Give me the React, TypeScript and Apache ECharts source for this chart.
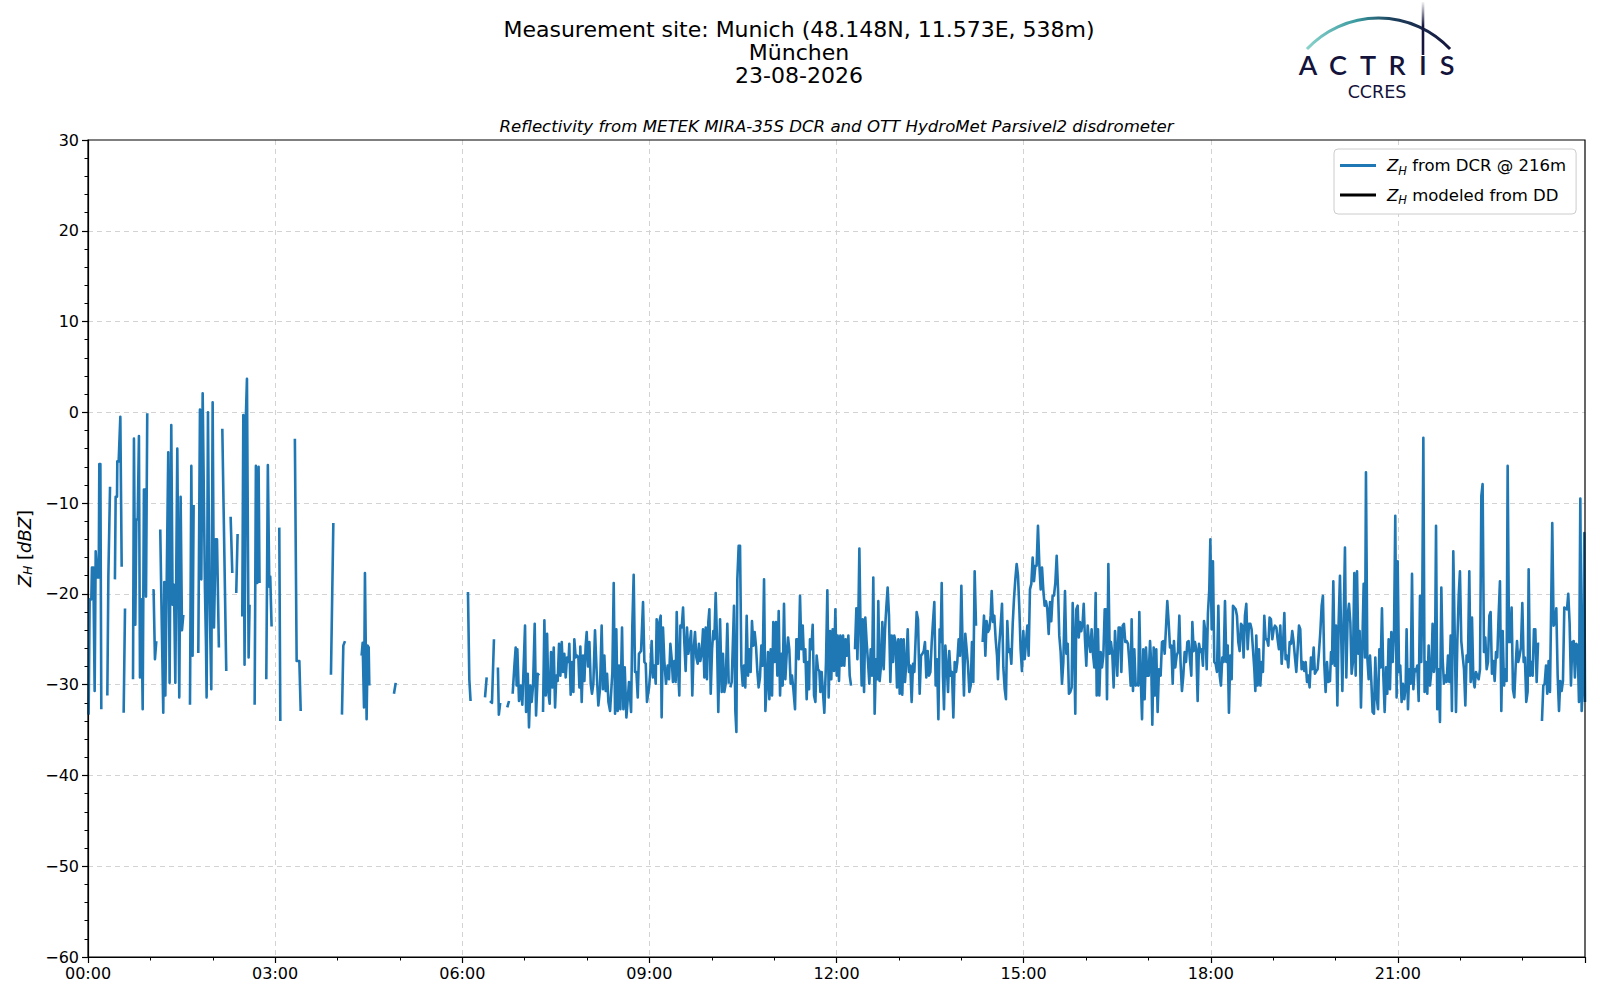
import React, { useEffect, useRef } from "react";
import * as echarts from "echarts";

// Reflectivity Z_H from DCR @ 216 m: [minute of day, dBZ]; [t, null] marks a data gap
const segNight: [number, number | null][] = [
  [0.6,-33.3],[1.6,-20.6],[3.2,-20.6],[3.8,-17.1],[5.1,-17.1],[6.4,-30.7],[7.4,-15.3],[9,-18.2],[10.3,-18.2],[10.9,-5.7],[11.9,-5.7],[12.8,-32.7],[15,null],
  [18.6,-31.2],[19.6,-18],[21.2,-8.2],[23,null],
  [25.9,-18.4],[26.6,-9.3],[27.9,-9.3],[28.2,-5.4],[29.5,-5.4],[31.1,-0.5],[32.4,-17],[33.3,null],
  [34.3,-33.1],[35.6,-21.6],[40,null],
  [43.3,-29.4],[44.2,-2.9],[45.5,-23.4],[46.5,-11.8],[47.8,-11.8],[49,-2.6],[50,-29.2],[51.3,-20.6],[52.6,-32.7],[53.8,-8.5],[55.1,-8.5],[55.8,-20.3],[57,-0.1],[59,null],
  [61.9,-19.6],[63.1,-19.6],[64.4,-27.2],[65.7,-25.2],[67,null],
  [69.5,-12.9],[70.5,-20.1],[72.4,-33.1],[73.4,-18.7],[74.4,-31.2],[77.2,-4.4],[78.5,-29.8],[80.1,-1.4],[81.4,-21.2],[82.7,-19],[84,-29.8],[85.9,-4],[87.8,-31.4],[89.1,-9.3],[90.4,-24],[91.7,-22.3],[95,null],
  [98.1,-32.2],[99.4,-5.9],[100.6,-26.8],[101.6,-10.2],[104,null],
  [106.1,-26.5],[107.7,0.3],[109,-18.4],[110.3,2.1],[112.5,-19.5],[113.5,-25.6],[114.1,-31.4],[115.4,0],[116.7,-18.8],[118.6,-30.5],[119.9,1.1],[121.2,-23.7],[122.8,-14],[124.1,-14],[125.9,-25.9],[127.5,null],
  [129.2,-1.8],[133,-28.5],[135,null],
  [137.2,-11.5],[138.8,-17.7],[140.5,null],
  [142.6,-19.9],[143.9,-13.4],[146,null],
  [148.4,-22.5],[149.4,-0.3],[150.6,-27.8],[151.9,-0.3],[152.9,3.7],[154.5,-27],[155.4,-21.2],[158,null],
  [160.3,-32.2],[161.5,-5.9],[162.8,-18.8],[164.1,-6],[165,-18.8],[168,null],
  [171.5,-29.4],[173,-5.8],[174.4,-19.2],[175.3,-18.1],[176.6,-23.6],[180,null],
  [184,-12.7],[185,-34],[190,null],
  [199,-2.9],[200.7,-27.4],[203.3,-27.4],[204.6,-32.9],[215,null],
  [233.7,-28.9],[236,-12.2],[240,null],
  [244.3,-33.3],[245.6,-25.7],[247.2,-25.2],[255,null],
  [263.2,-26.8],[264.2,-25.4],[265.5,-32.5],[266.4,-17.7],[268,-33.8],[269,-25.7],[270,-25.9],[270.6,-30.1],[280,null],
  [294.3,-31],[296,-29.8],[330,null],
  [365.5,-19.8],[366.8,-29.4],[368,-31.8],[375,null],
  [381.9,-31.4],[383.5,-29.2],[385,null],
  [386.7,-31.8],[388.6,-32],[390.5,-25],[392,null],
  [394.3,-28.1],[395.2,-33.3],[396.5,-32],[400,null],
  [403.3,-32.5],[405,-31.8],[406.5,null],
  [408.5,-31],[410.1,-28],[411.4,-25.9],[412.3,-30.1],[413,-26.1],[414.6,-31.8],[416.2,-30.1],[417.8,-32.2],
];

const segMorning: [number, number | null][] = [
  [420.4,-23.5],[421.4,-33],[423,-28.8],[424.2,-34.7],[425.5,-30.1],[426.8,-31.9],[428.1,-30.1],[429.7,-23.3],[431,-33.4],[432.6,-28.8],[433.9,-29],[435.8,null],
  [437.7,-33],[439,-22.9],[440.3,-31.2],[441.6,-24.4],[442.8,-30.8],[444.1,-32.1],[445.4,-26.4],[446.7,-30.3],[448,-25.9],[449.3,-32.5],[450.5,-29],[451.8,-29.6],[453.1,-25.5],[454.4,-29],[455.7,-25.3],[456.9,-28.6],[458.2,-26.6],[459.5,-29.2],[460.8,-27],[462.1,-27.5],[463,-25.5],[464.3,-31.1],[465.6,-27.5],[466.9,-30.8],[467.8,-25],[469.1,-27],[470.4,-26.8],[471.7,-27],[472.7,-30.3],[473.6,-25.8],[474.9,-31.9],[476.2,-26.8],[477.5,-29.6],[478.7,-25.7],[479.7,-24.2],[481,-28],[482.3,-25.3],[483.6,-29.9],[484.8,-31],[486.1,-29.9],[487.7,-24],[489.3,-28.6],[490.9,-32.3],[492.5,-30.5],[494.1,-23.5],[495.4,-30.5],[496.7,-26.8],[498,-30.7],[499.3,-28.8],[500.6,-31.9],[502.2,-32.9],[504.4,-28.6],[505.7,-18.8],[507,-33.2],[508.2,-23.9],[509.5,-32.9],[510.8,-27.9],[512.1,-32.7],[513.7,-23.7],[515,-32.7],[516.3,-28.1],[517.9,-33.6],[520.4,-29.7],[522.4,-33],[523.6,-23.5],[524.9,-17.9],[526.2,-28.6],[527.5,-28.6],[528.8,-31.4],[530,-26.6],[532,-26.3],[533.9,-20.9],[535.2,-27.5],[536.5,-27.7],[537.7,-31.9],[539.7,-30.3],[540.9,-28.6],[542.2,-25.2],[543.5,-29.2],[544.8,-27.9],[546.1,-29.9],[547,-22.8],[548.3,-27.7],[549.6,-23.1],[550.9,-22.4],[551.8,-33.6],[553.1,-23.7],[554.4,-27.4],[556,-29.9],[557.6,-27.9],[558.9,-29.4],[560.2,-25.5],[561.5,-27.2],[562.7,-29.7],[564,-27.4],[565.3,-29.7],[566.3,-22],[567.6,-28.3],[568.8,-31.2],[569.8,-23.5],[571.1,-23.7],[572.4,-21.5],[573.6,-25.3],[574.9,-28.5],[576.2,-23.7],[577.5,-26.6],[578.8,-25.5],[580.1,-24.1],[581.3,-31.2],[582.6,-26.1],[583.9,-24.2],[585.2,-27],[586.5,-27.7],[587.7,-25.5],[589,-27.4],[590.3,-26.6],[591.6,-23.9],[592.9,-29.2],[594.2,-23.7],[595.4,-29.4],[596.7,-23.1],[597.7,-21.7],[599,-31],[600.3,-26.1],[601.5,-24.1],[602.5,-25],[603.8,-19.9],[605.1,-25.3],[606.3,-33],[608,-22.8],[609.6,-30.8],[610.8,-26.6],[612.1,-30.8],[613.4,-29.9],[615,-23.3],[616.3,-29.9],[617.1,null],
  [617.9,-30.3],[619.2,-29.7],[621.4,-21.3],[622.7,-32.9],[623.7,-35.2],[624.6,-18.4],[625.9,-14.7],[627.2,-14.7],[628.5,-27.9],[629.8,-30.1],[631,-27.9],[632.3,-30.3],[633.6,-22.4],[634.9,-29],[636.2,-26.1],[637.4,-28.6],[638.7,-23],[640,-25.7],[641.3,-24.2],[642.6,-25.8],[643.9,-28.6],[645.1,-30.3],[646.4,-29.2],[647.7,-25.7],[649,-27.9],[650.3,-18.4],[651.6,-32.9],[652.8,-30.1],[654.1,-26.4],[655.4,-31.6],[656.7,-26.1],[658,-31.2],[659.2,-23.1],[660.5,-27.5],[661.8,-23.1],[663.1,-29],[664.4,-21.9],[665.7,-31.2],[666.9,-26.6],[668.2,-30.1],[669.5,-21.1],[670.8,-29.4],[672.1,-26.6],[673.4,-24.8],[674.6,-26.1],[675.9,-29.9],[677.2,-29],[678.5,-30.5],
];

const segMidday: [number, number | null][] = [
  [680.1,-32.7],[681.4,-25],[682.7,-25],[683.6,-27.2],[684.9,-20.2],[686.2,-26.1],[687.5,-23.5],[688.8,-27.5],[690,-26.1],[691.3,-31.6],[692.6,-27.5],[693.6,-30.5],[694.5,-25],[695.8,-26.1],[697.1,-23.4],[698.4,-31.2],[699.7,-31.9],[700.9,-26.8],[702.2,-28.3],[703.5,-28.5],[704.5,-30.8],[705.7,-28.6],[708.3,-33.1],[709.9,-27.5],[711.2,-19.6],[712.5,-31.4],[713.8,-24.1],[715,-29.4],[716.3,-23.9],[717.6,-28.5],[718.9,-21.7],[720.2,-29],[721.1,-24.6],[722.4,-29.6],[723.7,-24.6],[725,-27.9],[726.3,-24.6],[727.5,-27.9],[728.8,-25],[730.1,-26.8],[731.4,-24.6],[732.7,-29],[734,-30.1],[736,null],
  [737.8,-26.1],[739.1,-21.6],[740.1,-27.2],[741,-22.8],[742,-15],[743.3,-25.3],[744.2,-30.1],[745.2,-22.8],[746.5,-30.8],[747.7,-22.6],[749,-25.3],[750.3,-27.5],[751.6,-29.9],[752.9,-26.1],[754.2,-29],[755.4,-18.2],[756.7,-33.2],[758,-27.2],[759.3,-29.4],[760.2,-20.8],[761.5,-29.6],[762.8,-27.9],[764.1,-23.1],[765.4,-28.3],[766.7,-23.9],[767.9,-21.5],[769.2,-19.3],[770.5,-22.4],[771.8,-29.7],[773.1,-24.6],[774.4,-27.5],[775.6,-24.6],[776.9,-25.3],[778.2,-30.3],[779.5,-25],[780.8,-31],[782.1,-25],[783.3,-31.1],[784.6,-25],[785.9,-29.7],[787.2,-27.5],[788.5,-23.9],[789.7,-28.6],[791,-27.9],[792.3,-31.9],[793.6,-27.7],[794.9,-28.6],[797.1,-22],[798.4,-22.8],[800,-31],[801.3,-26.8],[802.6,-26.6],[803.9,-26.3],[805.1,-25.3],[806.4,-29.2],[807.7,-26.3],[809,-29],[810.3,-28.6],[811.6,-25.3],[812.8,-23.1],[814.1,-20.9],[815.4,-30.1],[816.7,-27.2],[818,-33.8],[819.2,-23.9],[820.2,-25.3],[821.2,-18.8],[822.4,-29],[823.4,-32.7],[824.7,-25.7],[826,-27.9],[827.3,-30.8],[828.5,-26.3],[829.8,-29],[831.1,-28.6],[832.4,-33.6],[833.7,-27.5],[835,-28.6],[836.2,-27.5],[837.5,-25],[838.8,-26.8],[840.1,-19.1],[841.4,-26.4],[842.6,-31.2],[843.9,-24.4],[845.2,-26.1],[846.5,-27.9],[847.8,-30.8],[849.1,-30.1],[850.3,-25.3],[851.6,-29.7],[852.9,-17.5],[854.2,-23.5],[857,null],
  [860.6,-25.3],[861.9,-22.4],[863.2,-26.8],[864.4,-23],[865.7,-24.2],[867,-23.9],[868.3,-22.4],[869.3,-19.7],[870.5,-23.1],[871.8,-22.4],[873.1,-25],[874.4,-26.8],[875.3,-29.4],[876.6,-25.5],[877.9,-23.5],[879.2,-21.1],[880.5,-28.1],[881.8,-30.5],[883,-31.6],[884.3,-23],[885.6,-26.4],[886.9,-26.1],[888.2,-27.7],[889.5,-23.3],[890.7,-20.6],[892,-18.4],[893.3,-16.7],[894.6,-18],[895.9,-21.7],[897.1,-26.1],[898.4,-28.5],[899.7,-24.1],[901,-27.2],[902.3,-25.3],[903.6,-23.5],[904.8,-26.8],[906.1,-19.5],[907.4,-18.9],[908.7,-16],[910,-18.6],[911.3,-16.9],[912.5,-16.9],[913.8,-12.5],[915.1,-16.7],[916.4,-19.5],[917.7,-17.1],[918.9,-19.5],[920.2,-21.3],[921.5,-20.8],[922.8,-21.7],[924.1,-24.4],[925.4,-20.9],[926.6,-23],[927.9,-20.2],[929.2,-20.2],[930.5,-18.8],[931.8,-15.8],[933.1,-19.5],[934.3,-24.6],[935.6,-26.4],[936.9,-29.9],[938.2,-27.5],
];

const segAfternoon: [number, number | null][] = [
  [939.8,-19.7],[941.1,-26.6],[942.4,-25.5],[943.6,-31],[944.9,-30.8],[946.2,-30.3],[947.2,-21],[948.5,-25.3],[949.7,-33.2],[950.7,-21.7],[952,-21.3],[953,-24.8],[954.2,-23.1],[955.5,-24.1],[956.8,-23.1],[957.8,-21.1],[959,-25],[960.3,-27.9],[961.6,-23.5],[962.9,-25.3],[964.2,-26.4],[965.4,-23.9],[966.7,-26.6],[968,-28.1],[969.3,-19.9],[970.3,-31.2],[971.5,-23.9],[972.8,-31.2],[974.1,-26.4],[975.4,-28.1],[976.7,-26.8],[978,-21.7],[979.2,-21.7],[980.2,-31.6],[981.5,-16.7],[982.8,-26.6],[984,-25.3],[985.3,-26.6],[986.6,-30.3],[987.9,-24.1],[989.2,-26.8],[990.1,-29],[991.4,-23.7],[992.7,-23.7],[994,-28.6],[995.3,-23.5],[996.5,-23.3],[997.8,-25.3],[999.1,-25.2],[1000.4,-25.5],[1001.7,-27.5],[1003,-30.1],[1003.9,-22.8],[1005.2,-30.7],[1006.5,-26.1],[1007.8,-30.1],[1009,-29.9],[1010.3,-30.1],[1011.3,-22],[1012.6,-29],[1013.9,-33.8],[1015.1,-26.1],[1016.4,-31.6],[1017.7,-25.9],[1019,-29],[1020.3,-29],[1021.6,-25.2],[1022.8,-27.9],[1023.8,-34.4],[1025.1,-25.9],[1026.4,-31.2],[1027.6,-26.1],[1028.9,-33],[1030.2,-28.3],[1031.8,-29],[1033.1,-25.3],[1034.4,-25.2],[1035.7,-26.6],[1038.2,-20.8],[1039.5,-23.1],[1040.8,-25.9],[1042.1,-25.7],[1043.4,-29.9],[1044.6,-25.2],[1045.9,-28.1],[1047.2,-26.8],[1048.5,-26.4],[1049.8,-22.4],[1051,-27.7],[1052.3,-30.7],[1053.6,-29],[1054.9,-26.4],[1056.2,-27.5],[1057.5,-25.3],[1058.7,-25.2],[1060,-27.2],[1061.3,-29],[1062.3,-23.1],[1063.6,-26.3],[1064.8,-25.3],[1066.1,-26.1],[1067.4,-31.8],[1068.7,-25.5],[1070,-26.4],[1071.2,-26.1],[1072.5,-27.9],[1073.5,-23],[1074.8,-24.1],[1076.1,-28.3],[1077.3,-22.1],[1078.6,-19.5],[1079.6,-14],[1080.9,-23.9],[1082.1,-16.4],[1083.4,-27.5],[1084.7,-27.7],[1086,-28.6],[1087.3,-21.3],[1088.6,-29],[1089.8,-30.1],[1091.1,-27],[1092.4,-27.5],[1093.7,-20.8],[1095,-27.5],[1096.3,-25.7],[1097.5,-33.1],[1098.8,-26.8],[1100.1,-29.4],[1101.4,-21.3],[1102.7,-21.5],[1104,-21.7],[1105.2,-22.4],[1106.5,-25.3],[1107.8,-26.3],[1109.1,-23.3],[1110.4,-23.5],[1111.6,-27],[1112.9,-22.4],[1114.2,-21.1],[1115.5,-26.1],[1116.8,-23.3],[1118.1,-23.3],[1119.3,-23.9],[1120.6,-26.1],[1121.9,-28.3],[1122.9,-30.7],[1123.8,-24.6],[1125.1,-30.1],[1126.4,-26.1],[1127.7,-30.1],[1129,-27.5],[1130.2,-28.6],[1131.5,-22.4],[1132.8,-25],[1134.1,-25],[1135.4,-25.7],[1136.6,-22.6],[1137.9,-22.8],[1139.2,-25],[1140.5,-23.9],[1141.8,-23.5],[1143.1,-23.7],[1144.3,-25],[1145.6,-26.1],[1146.9,-23.5],[1148.2,-27.7],[1149.5,-25.7],[1150.8,-22.1],[1152,-27.2],[1153.3,-26.8],[1154.6,-28.1],[1155.9,-25.3],[1157.2,-25.5],[1158.4,-24.1],[1159.7,-25.3],[1161,-27],[1162.3,-28.6],[1163.6,-26.1],[1164.9,-23.5],[1166.1,-23.9],[1167.4,-28.3],[1168.7,-27.5],[1170,-28.5],[1171.3,-27.5],[1172.6,-29.7],[1173.8,-29],[1175.1,-30.3],[1176.4,-27],[1177.7,-28.3],[1179,-25.9],[1180.2,-28.8],[1181.5,-28.5],[1182.8,-28.3],[1184.1,-26.4],[1185.4,-24.2],[1186.7,-21.3],[1187.9,-20.2],[1189.2,-27.7],[1190.5,-30.8],[1191.8,-27.5],[1193.1,-29.7],
];

const segEvening: [number, number | null][] = [
  [1194.7,-29.6],[1195.7,-26.4],[1196.6,-27.7],[1197.9,-18.6],[1199.2,-27.9],[1200.5,-23.5],[1201.8,-32.3],[1203,-23.2],[1204.3,-18],[1205.6,-25.3],[1206.6,-30.7],[1207.8,-23.2],[1209.1,-14.9],[1210.4,-29.2],[1211.7,-22.4],[1213,-21.1],[1214.3,-23.2],[1215.5,-28.8],[1216.8,-27.5],[1218.1,-17.7],[1219.4,-29],[1220.7,-17.5],[1222,-26.6],[1223.2,-24.1],[1224.5,-32.5],[1225.8,-25.7],[1227.1,-18.9],[1228.4,-27],[1229.3,-6.6],[1230.6,-27],[1231.9,-29.4],[1233.2,-26.8],[1234.5,-29.7],[1235.7,-33],[1237,-33.2],[1238.3,-27],[1239.6,-31.4],[1240.9,-32.7],[1242.2,-26.1],[1243.4,-28.1],[1244.7,-21.6],[1246,-29],[1247.3,-33],[1248.6,-28.1],[1249.8,-31],[1251.1,-25],[1252.4,-30.5],[1253.7,-24.2],[1255,-27.5],[1256.3,-24.2],[1257.5,-11.4],[1258.8,-31.4],[1259.8,-16.4],[1261.1,-28.6],[1262.3,-27.9],[1263.6,-31.9],[1264.9,-29.9],[1266.2,-31.6],[1267.5,-30.1],[1268.4,-23.9],[1269.7,-32.7],[1271,-28.3],[1272.3,-29.9],[1273.6,-17.8],[1274.9,-30.5],[1276.1,-28.3],[1277.4,-28.5],[1278.7,-27.9],[1280,-31.8],[1281.3,-20.2],[1282.5,-27.5],[1283.5,-20.2],[1284.5,-2.8],[1285.7,-30.8],[1287,-27.5],[1288.3,-31],[1289.6,-25.7],[1290.9,-30.1],[1292.2,-28.5],[1293.4,-23.3],[1294.7,-28.6],[1295.7,-27.5],[1296.7,-12.5],[1297.9,-32.7],[1299.2,-28.3],[1300.5,-34.1],[1301.8,-19.3],[1303.1,-27.2],[1304.3,-29.9],[1305.6,-29],[1306.9,-29.7],[1308.2,-26.8],[1309.5,-29.7],[1310.8,-24.6],[1312,-32.9],[1313.3,-15.3],[1314.6,-23.9],[1315.9,-33],[1317.2,-25.3],[1318.5,-20.2],[1319.7,-17.5],[1321,-25.2],[1322.3,-26.8],[1323.6,-28.3],[1324.9,-32.3],[1326.1,-26.8],[1327.4,-27.5],[1328.7,-17.5],[1330,-29.7],[1331.3,-22.6],[1332.6,-29.4],[1333.8,-30.3],[1335.1,-28.6],[1336.4,-29],[1337.7,-29.4],[1339,-28.3],[1340.3,-9.2],[1341.5,-7.9],[1342.8,-26.4],[1344.1,-24.8],[1345.4,-28.3],[1346.7,-27.5],[1348,-22.4],[1349.2,-22],[1350.5,-28.8],[1351.8,-27.4],[1353.1,-29.6],[1354.4,-26.4],[1355.6,-27],[1356.9,-22.4],[1358.2,-18.6],[1359.5,-32.9],[1360.8,-24.1],[1362.1,-30.1],[1363.3,-28.3],[1364.6,-29.6],[1365.6,-5.9],[1366.9,-25.3],[1368.1,-25.3],[1369.4,-21.5],[1370.7,-30.5],[1372,-31.4],[1373.3,-27.9],[1374.6,-25.2],[1375.8,-27.5],[1377.1,-26.8],[1378.4,-25.9],[1379.7,-21],[1381,-27.5],[1382.2,-27],[1383.5,-31.9],[1384.8,-30.8],[1385.8,-17.3],[1387.1,-29],[1388.3,-27.5],[1389.6,-29],[1390.9,-23.9],[1392.2,-23.9],[1393.5,-29.7],[1394.8,-25.5],[1396,-25.5],[1397.3,null],
  [1398.6,-34],[1399.9,-30.1],[1401.2,-29.9],[1402.5,-27.9],[1403.7,-31],[1405,-27.4],[1406.3,-30.8],[1407.6,-20.2],[1408.5,-12.2],[1409.8,-23.5],[1411.1,-23.2],[1412.4,-21.6],[1413.7,-29],[1415,-32.9],[1416.2,-29.6],[1417.5,-30.7],[1418.8,-29.6],[1420.1,-21.5],[1421.4,-21.6],[1422.7,-21.7],[1423.9,-20],[1425.2,-23.2],[1426.5,-30.1],[1427.8,-25.3],[1429.1,-25.2],[1430.3,-29.2],[1431.6,-25.5],[1432.9,-25.7],[1434.2,-31.9],[1435.5,-9.5],[1436.8,-32.9],[1438,-29.7],[1439.3,-13.3],[1440,-31.9],
];

// Z_H modeled from disdrometer: no values on this day
const ddValues: [number, number][] = [];

const xTicks = ["00:00", "03:00", "06:00", "09:00", "12:00", "15:00", "18:00", "21:00"];
const titleLines = ["Measurement site: Munich (48.148N, 11.573E, 538m)", "München", "23-08-2026"];
const subtitle = "Reflectivity from METEK MIRA-35S DCR and OTT HydroMet Parsivel2 disdrometer";
const seriesNames = ["ZH from DCR @ 216m", "ZH modeled from DD"];
const logoLetters = ["A", "C", "T", "R", "I", "S"];

const FONT = '"DejaVu Sans", sans-serif';

export default function App() {
  const ref = useRef<HTMLDivElement>(null);
  useEffect(() => {
    if (!ref.current) return;
    const chart = echarts.init(ref.current, undefined, { renderer: "svg" });
    const dcr = [...segNight, ...segMorning, ...segMidday, ...segAfternoon, ...segEvening];
    const letterX = [1308, 1338, 1368, 1397, 1423, 1447];
    const axisCommon = {
      axisLine: { show: true, onZero: false, lineStyle: { color: "#000", width: 1.2 } },
      axisTick: { show: true, length: 6, lineStyle: { color: "#000", width: 1.2 } },
      splitLine: { show: true, showMinLine: false, showMaxLine: false, lineStyle: { color: "#d3d3d3", type: [5, 4], width: 1 } },
    };
    const option: any = {
      animation: false,
      backgroundColor: "#ffffff",
      textStyle: { fontFamily: FONT },
      grid: { left: 88, top: 140, width: 1497, height: 817, show: true, borderColor: "#000", borderWidth: 1.2, backgroundColor: "transparent", z: 10 },
      legend: {
        orient: "vertical",
        left: 1334,
        top: 149,
        padding: [8, 10, 8, 6],
        itemGap: 10,
        itemWidth: 36,
        itemHeight: 3,
        icon: "rect",
        backgroundColor: "#fff",
        borderColor: "#cccccc",
        borderWidth: 1,
        borderRadius: 4,
        data: seriesNames,
        formatter: (name: string) =>
          name === seriesNames[0] ? "{z|Z}{s|H}{t| from DCR @ 216m}" : "{z|Z}{s|H}{t| modeled from DD}",
        textStyle: {
          fontFamily: FONT,
          fontSize: 16.5,
          color: "#000",
          padding: [0, 0, 0, 6],
          rich: {
            z: { fontFamily: FONT, fontSize: 16.5, fontStyle: "italic", color: "#000", lineHeight: 22 },
            s: { fontFamily: FONT, fontSize: 11.5, fontStyle: "italic", color: "#000", lineHeight: 22, verticalAlign: "bottom", padding: [6, 0, 0, 0] },
            t: { fontFamily: FONT, fontSize: 16.5, color: "#000", lineHeight: 22 },
          },
        },
      },
      xAxis: {
        type: "value",
        min: 0,
        max: 1440,
        interval: 180,
        ...axisCommon,
        minorTick: { show: true, splitNumber: 3, length: 3.5, lineStyle: { color: "#000", width: 1 } },
        axisLabel: {
          show: true,
          color: "#000",
          fontFamily: FONT,
          fontSize: 16,
          margin: 8,
          showMaxLabel: false,
          formatter: (v: number) => xTicks[Math.round(v / 180)] ?? "",
        },
      },
      yAxis: {
        type: "value",
        min: -60,
        max: 30,
        interval: 10,
        ...axisCommon,
        name: "{z|Z}{s|H}{t| [}{z|dBZ}{t|]}",
        nameLocation: "middle",
        nameGap: 52,
        nameRotate: 90,
        nameTextStyle: {
          rich: {
            z: { fontFamily: FONT, fontSize: 18, fontStyle: "italic", color: "#000" },
            s: { fontFamily: FONT, fontSize: 12, fontStyle: "italic", color: "#000", verticalAlign: "bottom", padding: [8, 0, 0, 0] },
            t: { fontFamily: FONT, fontSize: 18, color: "#000" },
          },
        },
        minorTick: { show: true, splitNumber: 5, length: 3.5, lineStyle: { color: "#000", width: 1 } },
        axisLabel: {
          color: "#000",
          fontFamily: FONT,
          fontSize: 16,
          margin: 9,
          formatter: (v: number) => String(v).replace("-", "\u2212"),
        },
      },
      series: [
        {
          name: seriesNames[0],
          type: "line",
          data: dcr,
          showSymbol: false,
          symbol: "none",
          connectNulls: false,
          color: "#1f77b4",
          lineStyle: { color: "#1f77b4", width: 2.6, join: "round" },
          z: 3,
        },
        {
          name: seriesNames[1],
          type: "line",
          data: ddValues,
          showSymbol: false,
          symbol: "none",
          color: "#000000",
          lineStyle: { color: "#000000", width: 2.6 },
        },
      ],
      graphic: [
        ...titleLines.map((t, i) => ({
          type: "text",
          x: 799,
          y: 29 + i * 23,
          style: { text: t, font: `22px ${FONT}`, fill: "#000", align: "center", verticalAlign: "middle" },
        })),
        {
          type: "text",
          x: 836.5,
          y: 126,
          style: { text: subtitle, font: `italic 16.6px ${FONT}`, fill: "#000", align: "center", verticalAlign: "middle" },
        },
        {
          type: "arc",
          shape: { cx: 1378.5, cy: 116, r: 98, startAngle: -2.389, endAngle: -0.752, clockwise: true },
          style: {
            fill: "none",
            lineWidth: 3,
            stroke: new echarts.graphic.LinearGradient(1306, 0, 1451, 0, [
              { offset: 0, color: "#8ad3cc" },
              { offset: 0.35, color: "#3a9aa0" },
              { offset: 0.6, color: "#1d3f5c" },
              { offset: 1, color: "#15153d" },
            ], true),
          },
        },
        {
          type: "line",
          shape: { x1: 1423, y1: 2, x2: 1423, y2: 55 },
          style: {
            lineWidth: 2.6,
            stroke: new echarts.graphic.LinearGradient(0, 2, 0, 55, [
              { offset: 0, color: "rgba(21,21,61,0.05)" },
              { offset: 0.45, color: "#15153d" },
              { offset: 1, color: "#15153d" },
            ], true),
          },
        },
        ...logoLetters.map((l, i) => ({
          type: "text",
          x: letterX[i],
          y: 78,
          style: { text: l, font: `600 27px Lato, ${FONT}`, fill: "#13133b", align: "center", verticalAlign: "bottom" },
        })),
        {
          type: "text",
          x: 1377,
          y: 92,
          style: { text: "CCRES", font: `17.5px ${FONT}`, fill: "#13133b", align: "center", verticalAlign: "middle" },
        },
      ],
    };
    chart.setOption(option);
    return () => chart.dispose();
  }, []);
  return <div ref={ref} style={{ position: "absolute", left: 0, top: 0, width: 1600, height: 1000, background: "#fff" }} />;
}
